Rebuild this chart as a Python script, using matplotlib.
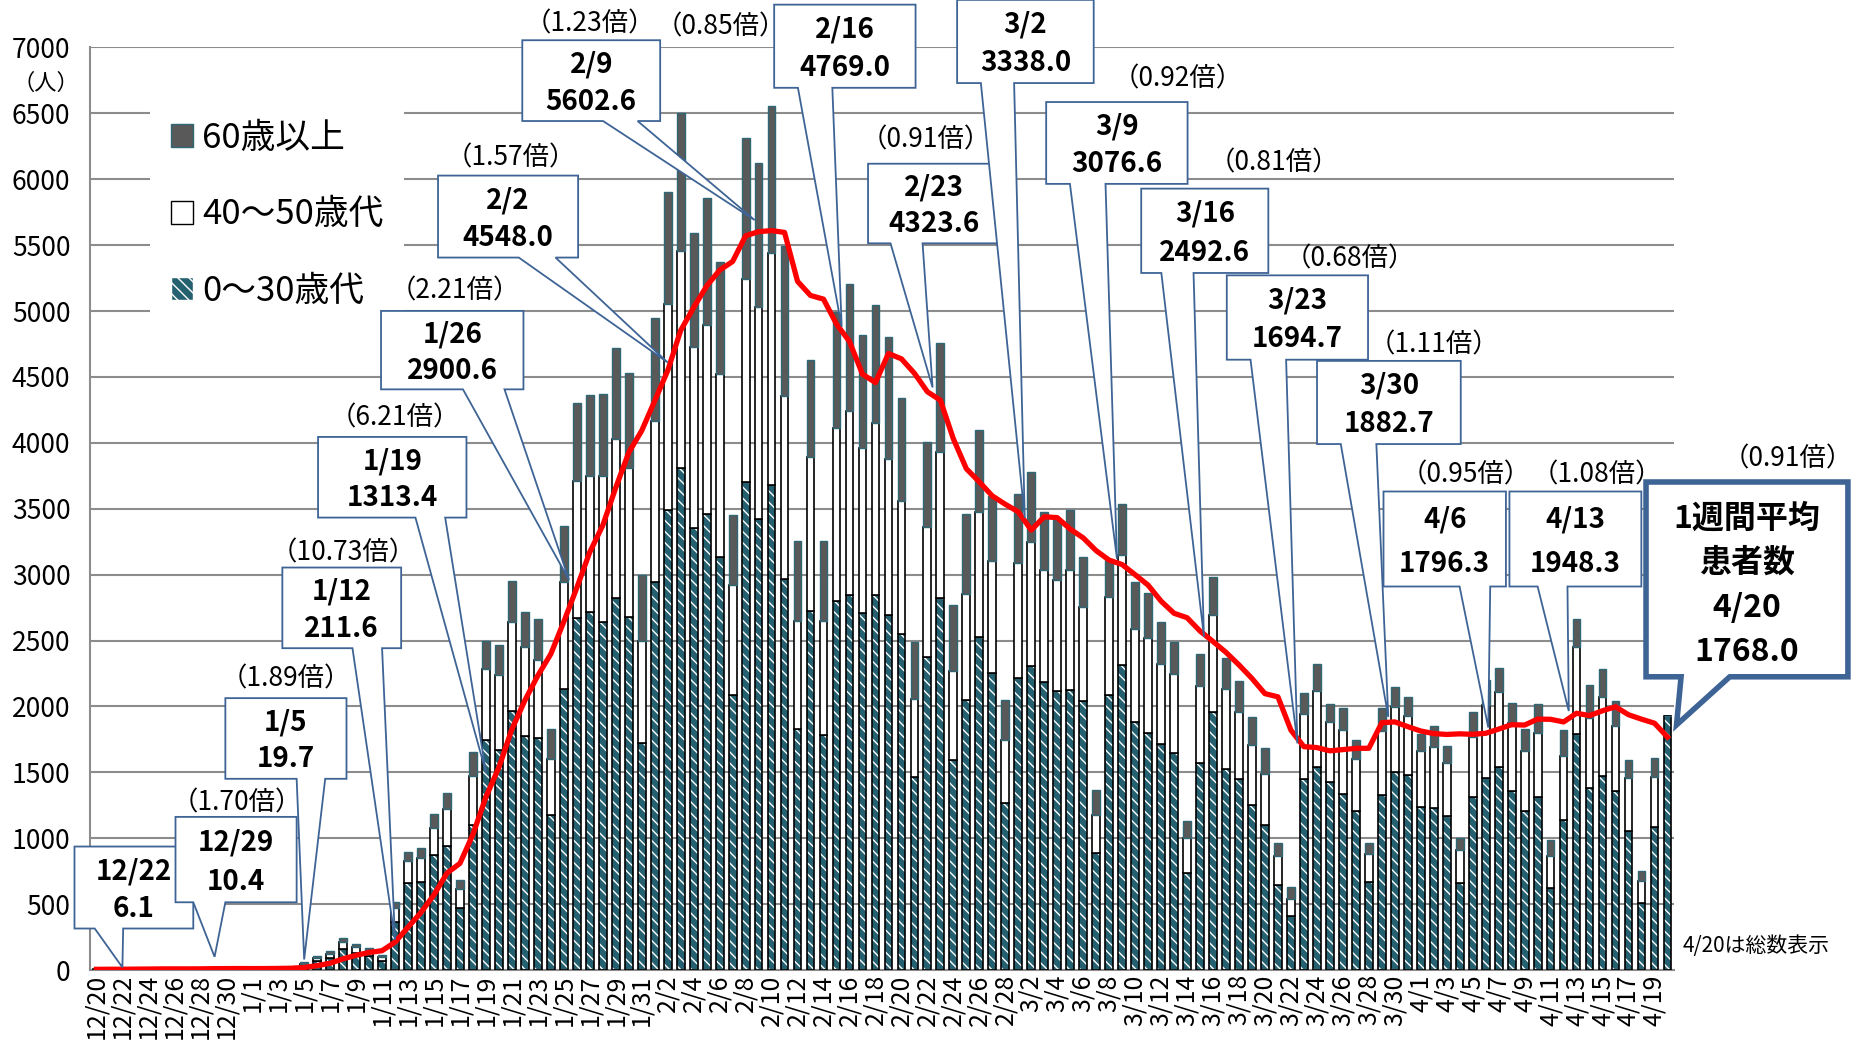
import matplotlib
matplotlib.use('Agg')
import matplotlib.pyplot as plt
from matplotlib.patches import Polygon, Patch
import numpy as np
import pandas as pd

plt.rcParams['font.family'] = ['Noto Sans CJK JP', 'DejaVu Sans']
plt.rcParams['hatch.linewidth'] = 1.0

# 12/20 - 4/20, one bar per day
days = pd.date_range('2021-12-20', '2022-04-20')
day_labels = [f'{d.month}/{d.day}' for d in days]

# 0~30歳代
age_0_30 = [4, 5, 4, 6, 7, 7, 4, 4, 7, 9,
            8, 9, 5, 6, 7, 14, 36, 68, 90, 160,
            130, 105, 72, 361, 657, 669, 874, 942, 467, 1101,
            1745, 1667, 1966, 1777, 1761, 1179, 2129, 2673, 2720, 2642,
            2824, 2680, 1720, 2945, 3493, 3811, 3353, 3462, 3136, 2090,
            3702, 3419, 3680, 2970, 1829, 2722, 1786, 2800, 2845, 2711,
            2845, 2693, 2552, 1467, 2378, 2820, 1597, 2050, 2527, 2255,
            1265, 2216, 2308, 2185, 2116, 2123, 2040, 889, 2087, 2317,
            1883, 1799, 1713, 1647, 737, 1569, 1956, 1525, 1451, 1255,
            1101, 643, 408, 1451, 1538, 1425, 1336, 1206, 665, 1330,
            1500, 1479, 1239, 1226, 1168, 659, 1315, 1454, 1543, 1360,
            1208, 1310, 626, 1137, 1791, 1378, 1474, 1360, 1056, 507,
            1082, 1930]
# 40~50歳代
age_40_50 = [2, 2, 1, 2, 2, 3, 2, 1, 3, 3,
             3, 3, 2, 2, 3, 4, 12, 20, 28, 50,
             42, 35, 24, 109, 171, 184, 202, 283, 147, 371,
             541, 572, 676, 676, 588, 425, 818, 1038, 1029, 1107,
             1208, 1132, 780, 1218, 1559, 1641, 1372, 1429, 1384, 828,
             1541, 1615, 1764, 1385, 819, 1171, 862, 1313, 1395, 1247,
             1307, 1184, 1007, 593, 983, 1113, 675, 802, 947, 848,
             484, 869, 943, 853, 844, 916, 714, 288, 745, 829,
             701, 724, 609, 597, 265, 583, 737, 606, 510, 453,
             390, 223, 131, 492, 580, 458, 489, 397, 214, 486,
             494, 451, 420, 464, 400, 250, 450, 556, 570, 512,
             456, 486, 240, 489, 658, 532, 595, 489, 398, 169,
             380, 0]
# 60歳以上
age_60 = [1, 2, 1, 2, 2, 2, 1, 1, 2, 3,
          2, 2, 2, 2, 2, 4, 10, 20, 23, 34,
          25, 24, 18, 43, 71, 76, 106, 122, 68, 183,
          214, 230, 313, 261, 318, 226, 419, 592, 616, 623,
          688, 717, 494, 787, 854, 1048, 867, 966, 854, 535,
          1072, 1093, 1110, 1141, 610, 732, 610, 877, 963, 862,
          895, 925, 784, 431, 647, 821, 498, 608, 625, 497,
          297, 525, 530, 440, 455, 452, 379, 188, 278, 392,
          361, 338, 319, 243, 130, 249, 288, 239, 232, 214,
          190, 96, 91, 162, 204, 138, 162, 144, 87, 170,
          156, 139, 132, 159, 134, 89, 196, 194, 179, 153,
          165, 222, 122, 195, 216, 256, 216, 190, 142, 76,
          146, 0]
# 1週間平均
week_avg = [5.3, 6.0, 6.1, 6.9, 7.6, 8.6, 8.9, 8.7, 9.1, 10.4,
            10.9, 11.3, 10.9, 11.3, 12.1, 13.6, 19.7, 33.3, 51.4, 85.0,
            111.7, 133.4, 146.6, 211.6, 324.6, 437.1, 571.1, 735.4, 809.4, 1029.6,
            1313.4, 1537.7, 1827.1, 2046.0, 2234.6, 2398.6, 2643.0, 2900.6, 3171.4, 3373.9,
            3660.4, 3926.4, 4092.7, 4319.0, 4548.0, 4853.0, 5027.3, 5189.7, 5310.4, 5376.0,
            5571.0, 5602.6, 5610.3, 5596.6, 5225.3, 5118.3, 5090.4, 4901.1, 4769.0, 4521.4,
            4457.3, 4677.9, 4637.6, 4528.0, 4387.7, 4323.6, 4030.7, 3804.0, 3703.6, 3597.4,
            3533.9, 3477.0, 3338.0, 3439.1, 3432.7, 3345.9, 3279.1, 3181.9, 3110.4, 3076.6,
            2999.6, 2920.4, 2799.0, 2706.7, 2673.4, 2572.1, 2492.6, 2410.4, 2315.0, 2212.3,
            2097.1, 2072.9, 1819.9, 1694.7, 1687.9, 1663.3, 1672.6, 1682.0, 1682.6, 1876.3,
            1882.7, 1846.6, 1813.7, 1794.0, 1787.6, 1792.1, 1788.6, 1796.3, 1828.1, 1861.6,
            1858.7, 1903.9, 1902.4, 1882.4, 1948.3, 1930.3, 1967.4, 1997.4, 1937.1, 1903.4,
            1873.0, 1768.0]

# callouts: date, value, ratio text
callout_dates = ['12/22', '12/29', '1/5', '1/12', '1/19', '1/26', '2/2', '2/9', '2/16',
                 '2/23', '3/2', '3/9', '3/16', '3/23', '3/30', '4/6', '4/13']
callout_values = ['6.1', '10.4', '19.7', '211.6', '1313.4', '2900.6', '4548.0', '5602.6', '4769.0',
                  '4323.6', '3338.0', '3076.6', '2492.6', '1694.7', '1882.7', '1796.3', '1948.3']
callout_ratios = [None, '（1.70倍）', '（1.89倍）', '（10.73倍）', '（6.21倍）', '（2.21倍）', '（1.57倍）',
                  '（1.23倍）', '（0.85倍）', '（0.91倍）', None, '（0.92倍）', '（0.81倍）',
                  '（0.68倍）', '（1.11倍）', '（0.95倍）', '（1.08倍）']

# layout of callouts in data units: box (x0, x1, ytop, ybot), pointer base, tip, ratio text pos
box_pos = [(-1.69, 7.46, 937, 315), (6.09, 15.42, 1162, 514), (9.93, 19.26, 2063, 1451),
           (14.32, 23.47, 3054, 2442), (17.07, 28.5, 4045, 3433), (21.92, 32.89, 5001, 4406),
           (26.31, 37.1, 6028, 5406), (32.8, 43.42, 7055, 6442), (52.2, 63.09, 7325, 6694),
           (59.43, 69.58, 6118, 5514), (66.29, 76.81, 7361, 6730), (73.15, 84.04, 6586, 5965),
           (80.47, 90.26, 5929, 5289), (87.06, 97.94, 5271, 4631), (94.01, 105.08, 4622, 3991),
           (99.13, 108.56, 3631, 2910), (108.83, 118.99, 3631, 2910)]
base_pos = [(-0.13, 2.06), (7.46, 9.93), (15.42, 17.62), (19.72, 22.0), (24.57, 26.86),
            (28.23, 31.43), (32.53, 35.36), (39.02, 41.68), (54.03, 56.68), (61.16, 63.63),
            (68.12, 70.68), (74.98, 77.72), (82.02, 84.5), (88.89, 91.63), (95.84, 98.58),
            (104.99, 107.35), (111.0, 113.3)]
tip_pos = [(2, 20), (9.1, 100), (16, 80), (23, 230), (30, 1500), (36.4, 2960), (44, 4610),
           (50.7, 5690), (57.4, 4880), (64.4, 4420), (71.5, 3430), (78.6, 3120), (85.3, 2530),
           (92.5, 1720), (99.5, 1920), (107.2, 1840), (113.4, 1965)]
ratio_pos = [None, (10.84, 1270), (14.6, 2207), (19.0, 3163), (23.0, 4190), (27.6, 5154),
             (31.9, 6163), (38.0, 7181), (48.1, 7154), (63.9, 6298), None, (83.3, 6758),
             (90.7, 6127), (96.5, 5397), (103.0, 4739), (105.45, 3757), (115.6, 3757)]

box_color = '#3e6496'
teal = '#24606f'
dark = '#595959'

fig = plt.figure(figsize=(18.62, 10.48), dpi=100)
ax = fig.add_axes([0.0483, 0.0744, 0.8507, 0.8803])

x = np.arange(len(days))
young = np.array(age_0_30)
middle = np.array(age_40_50)
senior = np.array(age_60)
w = 0.6

ax.bar(x, young, w, facecolor=teal, edgecolor='white', hatch='\\\\\\', lw=0, zorder=2)
ax.bar(x, young, w, fill=False, edgecolor='black', lw=1.2, zorder=3)
ax.bar(x, middle, w, bottom=young, facecolor='white', edgecolor='black', lw=1.2, zorder=3)
ax.bar(x, senior, w, bottom=young + middle, facecolor=dark, edgecolor='#2f6776', lw=1.0, zorder=3)

ax.plot(x, week_avg, color='red', lw=3.8, zorder=5, solid_joinstyle='round')

ax.set_xlim(-0.5, len(days) - 0.5)
ax.set_ylim(0, 7000)
ax.set_yticks(np.arange(0, 7001, 500))
ax.set_xticks(x[::2])
ax.set_xticklabels(day_labels[::2], rotation=90, fontsize=18)
ax.tick_params(axis='y', labelsize=19, length=0, pad=14)
ax.tick_params(axis='x', length=0, pad=3)
ax.grid(axis='y', color='#8c8c8c', lw=1.5, zorder=0)
ax.set_axisbelow(True)
for s in ['top', 'right']:
    ax.spines[s].set_visible(False)
for s in ['left', 'bottom']:
    ax.spines[s].set_color('#8c8c8c')
    ax.spines[s].set_linewidth(1.5)

ax.text(-0.028, 0.961, '（人）', transform=ax.transAxes, ha='center', va='center', fontsize=16)

# legend
handles = [Patch(facecolor=dark, edgecolor='#2f6776'),
           Patch(facecolor='white', edgecolor='black'),
           Patch(facecolor=teal, edgecolor='white', hatch='\\\\\\')]
leg = ax.legend(handles, ['60歳以上', '40～50歳代', '0～30歳代'], loc='upper left',
                bbox_to_anchor=(0.027, 0.962), fontsize=25, frameon=True, facecolor='white',
                edgecolor='none', framealpha=1, fancybox=False, handlelength=0.65,
                handleheight=0.65, handletextpad=0.25, labelspacing=1.2, borderpad=0.6)
leg.set_zorder(4)

# callouts
for i in range(len(callout_dates)):
    x0, x1, yt, yb = box_pos[i]
    b0, b1 = base_pos[i]
    verts = [(x0, yt), (x1, yt), (x1, yb), (b1, yb), tip_pos[i], (b0, yb), (x0, yb)]
    ax.add_patch(Polygon(verts, closed=True, facecolor='white', edgecolor=box_color, lw=1.3,
                         clip_on=False, zorder=8, joinstyle='miter'))
    cx = (x0 + x1) / 2
    h = yt - yb
    ax.text(cx, yt - 0.3 * h, callout_dates[i], ha='center', va='center', fontsize=20,
            fontweight='bold', zorder=9, clip_on=False)
    ax.text(cx, yt - 0.76 * h, callout_values[i], ha='center', va='center', fontsize=20,
            fontweight='bold', zorder=9, clip_on=False)
    if callout_ratios[i]:
        ax.text(ratio_pos[i][0], ratio_pos[i][1], callout_ratios[i], ha='center', va='center',
                fontsize=19, zorder=9, clip_on=False)

# latest week average
big = [(119.35, 3703), (134.9, 3703), (134.9, 2225), (125.8, 2225), (121.7, 1860),
       (122.05, 2225), (119.35, 2225)]
ax.add_patch(Polygon(big, closed=True, facecolor='white', edgecolor=box_color, lw=4,
                     clip_on=False, zorder=8, joinstyle='miter'))
for txt, yy in zip(['1週間平均', '患者数', '4/20', '1768.0'], [3424, 3090, 2748, 2415]):
    ax.text(127.1, yy, txt, ha='center', va='center', fontsize=23, fontweight='bold',
            zorder=9, clip_on=False)
ax.text(130.24, 3874, '（0.91倍）', ha='center', va='center', fontsize=19, zorder=9, clip_on=False)
ax.text(127.8, 180, '4/20は総数表示', ha='center', va='center', fontsize=15, clip_on=False)

fig.savefig('out.png', dpi=100)
